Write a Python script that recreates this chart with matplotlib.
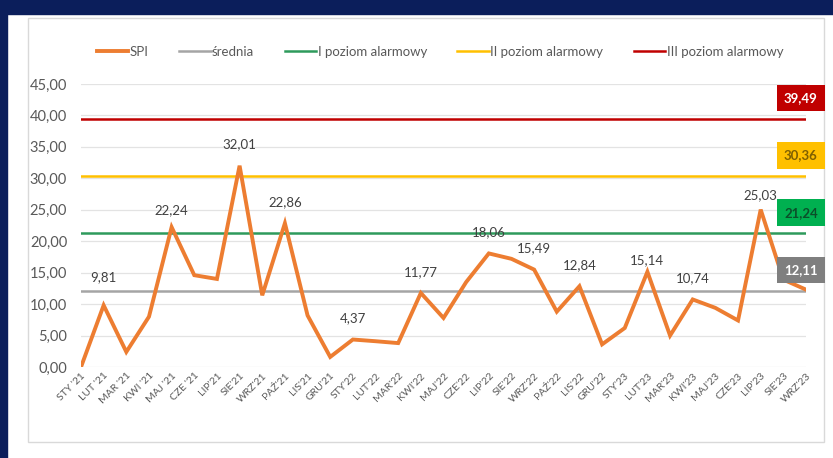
import matplotlib
matplotlib.use("Agg")
import matplotlib.pyplot as plt
from matplotlib.patches import Rectangle
from matplotlib.ticker import FuncFormatter
import matplotlib.transforms as mtransforms

plt.rcParams['font.family'] = ['Lato', 'DejaVu Sans']

# dane
miesiace = ["STY '21", "LUT '21", "MAR '21", "KWI '21", "MAJ '21", "CZE '21", "LIP'21",
            "SIE'21", "WRZ'21", "PAŹ'21", "LIS'21", "GRU'21",
            "STY'22", "LUT'22", "MAR'22", "KWI'22", "MAJ'22", "CZE'22", "LIP'22",
            "SIE'22", "WRZ'22", "PAŹ'22", "LIS'22", "GRU'22",
            "STY'23", "LUT'23", "MAR'23", "KWI'23", "MAJ'23", "CZE'23", "LIP'23",
            "SIE'23", "WRZ'23"]
spi = [0.0, 9.81, 2.4, 8.0, 22.24, 14.6, 14.0, 32.01, 11.4, 22.86, 8.2, 1.6,
       4.37, 4.1, 3.8, 11.77, 7.8, 13.5, 18.06, 17.2, 15.49, 8.8, 12.84, 3.6,
       6.2, 15.14, 5.0, 10.74, 9.4, 7.4, 25.03, 13.9, 12.3]
srednia = 12.11
poziom_1 = 21.24
poziom_2 = 30.36
poziom_3 = 39.49
etykiety_idx = [1, 4, 7, 9, 12, 15, 18, 20, 22, 25, 27, 30]

W, H = 833, 458
fig = plt.figure(figsize=(W / 100, H / 100), dpi=100)
fig.patch.set_facecolor('white')

# ramka granatowa + szara obwodka wykresu
navy = '#0B1E5B'
fig.add_artist(Rectangle((0, 0), 7 / W, 1, transform=fig.transFigure, color=navy, zorder=0))
fig.add_artist(Rectangle((0, 1 - 14 / H), 1, 14 / H, transform=fig.transFigure, color=navy, zorder=0))
fig.add_artist(Rectangle((28 / W, (H - 442) / H), (824 - 28) / W, (442 - 18) / H,
                         transform=fig.transFigure, fill=False, edgecolor='#D9D9D9', lw=1, zorder=0))

ax = fig.add_axes([81 / W, (H - 367) / H, (806 - 81) / W, (367 - 84) / H])
x = list(range(len(miesiace)))
n = len(miesiace)

ax.plot(x, spi, color='#ED7D31', lw=2.8, label='SPI', zorder=5, solid_joinstyle='miter')
ax.plot(x, [srednia] * n, color='#A5A5A5', lw=1.8, label='średnia', zorder=3)
ax.plot(x, [poziom_1] * n, color='#2E9A5C', lw=1.8, label='I poziom alarmowy', zorder=3)
ax.plot(x, [poziom_2] * n, color='#FFC000', lw=1.8, label='II poziom alarmowy', zorder=3)
ax.plot(x, [poziom_3] * n, color='#C00000', lw=1.8, label='III poziom alarmowy', zorder=3)

ax.set_xlim(0, n - 1)
ax.set_ylim(0, 45)
ax.set_yticks(range(0, 50, 5))
ax.yaxis.set_major_formatter(FuncFormatter(lambda v, p: ('%.2f' % v).replace('.', ',')))
ax.grid(axis='y', color='#E3E3E3', lw=0.9, zorder=0)
for s in ax.spines.values():
    s.set_visible(False)
ax.tick_params(axis='both', length=0, colors='#595959')
ax.tick_params(axis='y', labelsize=10.5, pad=10)
ax.set_xticks(x)
ax.set_xticklabels(miesiace, rotation=45, ha='right', rotation_mode='anchor', fontsize=7.5)
ax.tick_params(axis='x', pad=3)

# etykiety danych
przesuniecia = {1: 16, 25: 4, 30: 6, 4: 8}
for i in etykiety_idx:
    ax.annotate(('%.2f' % spi[i]).replace('.', ','), (i, spi[i]),
                xytext=(0, przesuniecia.get(i, 11)), textcoords='offset points',
                ha='center', va='bottom', fontsize=9.5, color='#404040', zorder=6)

# ramki z wartosciami poziomow
trans = mtransforms.blended_transform_factory(ax.transAxes, ax.transData)
boxy = [(poziom_3, '#C00000', 'white'), (poziom_2, '#FFC000', '#7F6000'),
        (poziom_1, '#00B050', '#0B4F2A'), (srednia, '#7F7F7F', 'white')]
for val, bg, fg in boxy:
    ax.text(0.993, val + 3.3, ('%.2f' % val).replace('.', ','), transform=trans,
            ha='center', va='center', fontsize=9.5, fontweight='bold', color=fg,
            bbox=dict(boxstyle='square,pad=0.55', facecolor=bg, edgecolor='none'),
            clip_on=False, zorder=7)

fig.legend(loc='center', bbox_to_anchor=(440 / W, 1 - 52 / H), ncol=5, frameon=False,
           fontsize=9.5, handlelength=2.4, handletextpad=0.1, columnspacing=2.3,
           labelcolor='#595959')

fig.savefig('out.png', dpi=100)
